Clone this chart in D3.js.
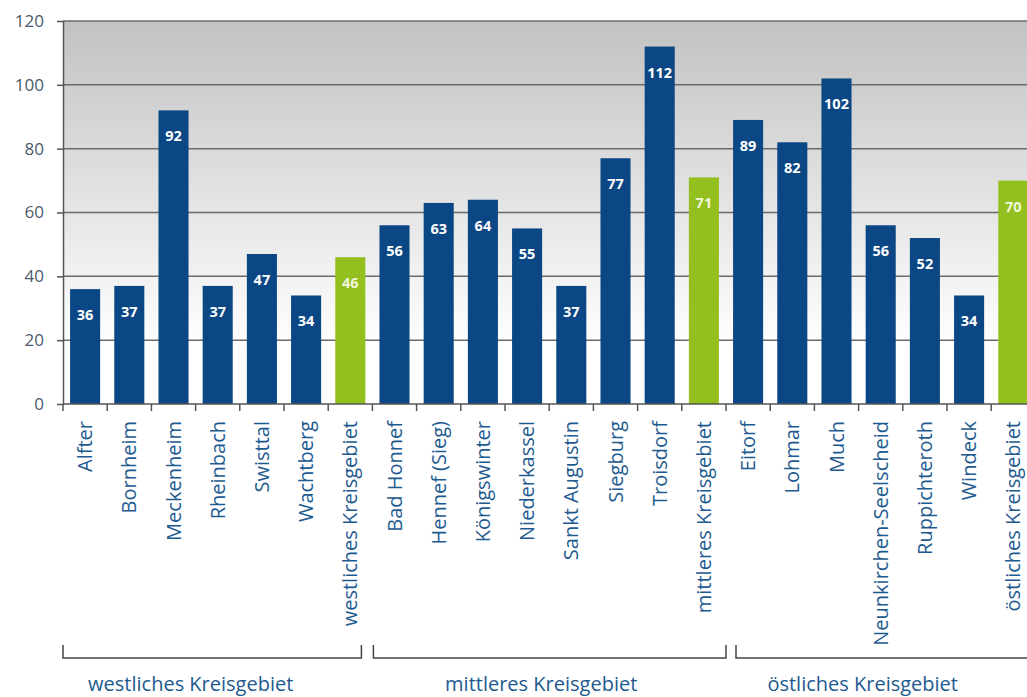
<!DOCTYPE html>
<html lang="de">
<head>
    <meta charset="UTF-8">
    <title>Kreisgebiet</title>
    <script src="https://d3js.org/d3.v7.min.js"></script>
    <style>
        body { margin: 0; background: #fff; }
        text { font-family: "Open Sans", sans-serif; }
    </style>
</head>
<body>
<div id="chart"></div>

<script type="text/javascript">
    var width = 1027;
    var height = 697;

    // data
    var orte = ["Alfter", "Bornheim", "Meckenheim", "Rheinbach", "Swisttal", "Wachtberg", "westliches Kreisgebiet",
        "Bad Honnef", "Hennef (Sieg)", "Königswinter", "Niederkassel", "Sankt Augustin", "Siegburg", "Troisdorf", "mittleres Kreisgebiet",
        "Eitorf", "Lohmar", "Much", "Neunkirchen-Seelscheid", "Ruppichteroth", "Windeck", "östliches Kreisgebiet"];
    var werte = [36, 37, 92, 37, 47, 34, 46,
        56, 63, 64, 55, 37, 77, 112, 71,
        89, 82, 102, 56, 52, 34, 70];
    var summen = ["westliches Kreisgebiet", "mittleres Kreisgebiet", "östliches Kreisgebiet"];
    var gruppen = ["westliches Kreisgebiet", "mittleres Kreisgebiet", "östliches Kreisgebiet"];
    var gruppeStart = ["Alfter", "Bad Honnef", "Eitorf"];
    var gruppeEnde = ["westliches Kreisgebiet", "mittleres Kreisgebiet", "östliches Kreisgebiet"];
    var yTicks = [0, 20, 40, 60, 80, 100, 120];

    var mLeft = 63, mTop = 21, plotBottom = 404;
    var plotRight = mLeft + 44.2 * orte.length;

    var svg = d3.select("#chart")
        .append("svg")
        .attr("width", width)
        .attr("height", height);

    var defs = svg.append("defs");
    var grad = defs.append("linearGradient")
        .attr("id", "bg")
        .attr("x1", 0).attr("y1", 0).attr("x2", 0).attr("y2", 1);
    grad.append("stop").attr("offset", "0%").attr("stop-color", "#c2c2c2");
    grad.append("stop").attr("offset", "45%").attr("stop-color", "#e2e2e2");
    grad.append("stop").attr("offset", "85%").attr("stop-color", "#ffffff");
    grad.append("stop").attr("offset", "100%").attr("stop-color", "#ffffff");

    var x = d3.scaleBand()
        .domain(orte)
        .range([mLeft, plotRight])
        .paddingInner(0.32)
        .paddingOuter(0.16);

    var y = d3.scaleLinear()
        .domain([0, 120])
        .range([plotBottom, mTop]);

    var step = x.step();
    function bandStart(d) { return mLeft + orte.indexOf(d) * step; }

    svg.append("rect")
        .attr("x", mLeft)
        .attr("y", y(120))
        .attr("width", plotRight - mLeft)
        .attr("height", y(0) - y(120))
        .attr("fill", "url(#bg)");

    // gridlines
    svg.append("g")
        .selectAll("line")
        .data(yTicks.filter(function (d) { return d > 0; }))
        .enter()
        .append("line")
        .attr("x1", mLeft)
        .attr("x2", plotRight)
        .attr("y1", function (d) { return y(d); })
        .attr("y2", function (d) { return y(d); })
        .attr("stroke", "#6a6a6a")
        .attr("stroke-width", 1.5);

    // bars
    svg.append("g")
        .selectAll("rect")
        .data(orte)
        .enter()
        .append("rect")
        .attr("x", function (d) { return x(d); })
        .attr("y", function (d, i) { return y(werte[i]); })
        .attr("width", x.bandwidth())
        .attr("height", function (d, i) { return y(0) - y(werte[i]); })
        .attr("fill", function (d) { return summen.indexOf(d) >= 0 ? "#93c01f" : "#0b4784"; });

    // value labels
    svg.append("g")
        .selectAll("text")
        .data(orte)
        .enter()
        .append("text")
        .attr("x", function (d) { return x(d) + x.bandwidth() / 2; })
        .attr("y", function (d, i) { return y(werte[i]) + 31; })
        .attr("text-anchor", "middle")
        .attr("fill", function (d) { return summen.indexOf(d) >= 0 ? "#f2f7dc" : "#ffffff"; })
        .attr("font-size", "14.5px")
        .attr("font-weight", "bold")
        .text(function (d, i) { return werte[i]; });

    // y axis
    var yAxis = svg.append("g")
        .attr("transform", "translate(" + mLeft + ",0)")
        .call(d3.axisLeft(y).tickValues(yTicks).tickSize(6).tickSizeOuter(0).tickPadding(13));
    yAxis.select(".domain").attr("stroke", "#555").attr("stroke-width", 1.5);
    yAxis.selectAll(".tick line").attr("stroke", "#555").attr("stroke-width", 1.5);
    yAxis.selectAll(".tick text")
        .attr("fill", "#4a5a6e")
        .attr("font-size", "17px")
        .attr("font-family", "Open Sans, sans-serif");

    // x axis baseline and ticks at band boundaries
    svg.append("line")
        .attr("x1", mLeft)
        .attr("x2", plotRight)
        .attr("y1", y(0))
        .attr("y2", y(0))
        .attr("stroke", "#555")
        .attr("stroke-width", 1.5);

    svg.append("g")
        .selectAll("line")
        .data(orte)
        .enter()
        .append("line")
        .attr("x1", function (d) { return bandStart(d); })
        .attr("x2", function (d) { return bandStart(d); })
        .attr("y1", y(0))
        .attr("y2", y(0) + 7)
        .attr("stroke", "#555")
        .attr("stroke-width", 1.5);

    // category labels
    svg.append("g")
        .selectAll("text")
        .data(orte)
        .enter()
        .append("text")
        .attr("transform", function (d) {
            return "translate(" + (x(d) + x.bandwidth() / 2) + "," + (y(0) + 17) + ") rotate(-90)";
        })
        .attr("dy", "0.35em")
        .attr("text-anchor", "end")
        .attr("fill", "#1d5a8f")
        .attr("font-size", "20px")
        .text(function (d) { return d; });

    // group brackets
    var bracketY = 658, bracketTop = 645;
    var gapL = [0, 1, 10], gapR = [11, 0, -40];
    var labelShift = [-27, -8, -18];
    gruppen.forEach(function (g, i) {
        var x0 = bandStart(gruppeStart[i]) + gapL[i];
        var x1 = bandStart(gruppeEnde[i]) + step - gapR[i];
        svg.append("path")
            .attr("d", "M" + x0 + "," + bracketTop + "V" + bracketY + "H" + x1 + "V" + bracketTop)
            .attr("fill", "none")
            .attr("stroke", "#444")
            .attr("stroke-width", 1.5);
        var cx = (bandStart(gruppeStart[i]) + bandStart(gruppeEnde[i]) + step) / 2;
        svg.append("text")
            .attr("x", cx + labelShift[i])
            .attr("y", 691)
            .attr("text-anchor", "middle")
            .attr("fill", "#1d5a8f")
            .attr("font-size", "20px")
            .text(g);
    });
</script>
</body>
</html>
